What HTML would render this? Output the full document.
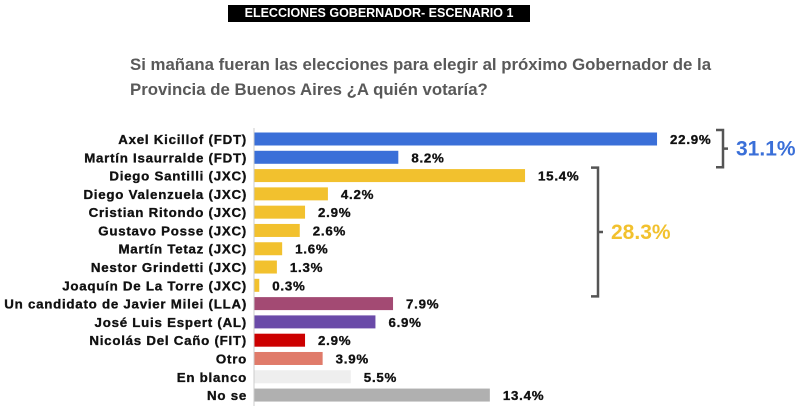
<!DOCTYPE html>
<html><head><meta charset="utf-8"><style>
html,body{margin:0;padding:0;background:#fff;width:800px;height:408px;overflow:hidden;font-family:"Liberation Sans",Arial,sans-serif}
#title{position:absolute;left:228px;top:5px;width:302px;height:17px;background:#000;color:#fff;font-weight:bold;font-size:12.5px;line-height:17px;text-align:center}
#sub{position:absolute;left:130px;top:52px;color:#595959;font-weight:bold;font-size:16.8px;line-height:25px}
</style></head><body>
<div id="title">ELECCIONES GOBERNADOR- ESCENARIO 1</div>
<div id="sub">Si mañana fueran las elecciones para elegir al próximo Gobernador de la<br>Provincia de Buenos Aires ¿A quién votaría?</div>
<svg id="chart" width="800" height="408" style="position:absolute;left:0;top:0"></svg>
<script>
const categories=["Axel Kicillof (FDT)","Martín Isaurralde (FDT)","Diego Santilli (JXC)","Diego Valenzuela (JXC)","Cristian Ritondo (JXC)","Gustavo Posse (JXC)","Martín Tetaz (JXC)","Nestor Grindetti (JXC)","Joaquín De La Torre (JXC)","Un candidato de Javier Milei (LLA)","José Luis Espert (AL)","Nicolás Del Caño (FIT)","Otro","En blanco","No se"];
const values=[22.9,8.2,15.4,4.2,2.9,2.6,1.6,1.3,0.3,7.9,6.9,2.9,3.9,5.5,13.4];
const colors=["#3a6fd8","#3a6fd8","#f2c12e","#f2c12e","#f2c12e","#f2c12e","#f2c12e","#f2c12e","#f2c12e","#a34a73","#6a4aa8","#cc0000","#e07b6a","#eeeeee","#b0b0b0"];
const groupTotals=[31.1,28.3];
const NS="http://www.w3.org/2000/svg";
const svg=document.getElementById("chart");
const x0=254, scale=17.6, y0=139, pitch=18.29, bh=13;
const xs=v=>x0+v*scale, ys=i=>y0+i*pitch;
function mk(t,a){const e=document.createElementNS(NS,t);for(const k in a)e.setAttribute(k,a[k]);svg.appendChild(e);return e;}
const txt={"font-size":"13.3","font-weight":"bold",fill:"#111",stroke:"#111","stroke-width":"0.35","letter-spacing":"0.75"};
categories.forEach((c,i)=>{
  const r=mk("rect",{x:x0,y:ys(i)-bh/2,width:xs(values[i])-x0,height:bh,fill:colors[i]});
  
  
  const l=mk("text",Object.assign({x:247,y:ys(i)+5,"text-anchor":"end"},txt));
  l.textContent=c;
  
  
  const v=mk("text",Object.assign({x:xs(values[i])+13,y:ys(i)+5},txt));
  v.textContent=values[i].toFixed(1)+"%";
  
  
});
const ax=mk("line",{x1:x0,y1:128,x2:x0,y2:406,stroke:"#ccc","stroke-width":1});


function bracket(x,ya,yb,label,color,name){
  const ym=(ya+yb)/2;
  const p=mk("path",{d:`M${x-7},${ya} H${x} V${yb} H${x-7} M${x},${ym} H${x+5}`,fill:"none",stroke:"#555","stroke-width":2.5});
  
  
  const t=mk("text",{x:x+13,y:ym+7,"font-size":"21","font-weight":"bold",fill:color});
  t.textContent=label.toFixed(1)+"%";
  
  
}
bracket(723,ys(0)-9,ys(1)+10,groupTotals[0],"#3a6fd8","fdt");
bracket(598,ys(2)-8,ys(8)+11,groupTotals[1],"#f2c12e","jxc");
</script>
</body></html>
